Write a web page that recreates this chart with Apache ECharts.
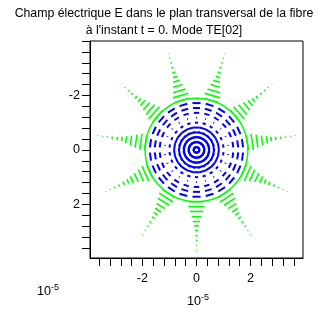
<!DOCTYPE html>
<html>
<head>
<meta charset="utf-8">
<script src="https://cdn.jsdelivr.net/npm/echarts@6/dist/echarts.min.js"></script>
<style>
html,body{margin:0;padding:0;background:#fff;}
#c{width:329px;height:329px;}
</style>
</head>
<body>
<div id="c"></div>
<script>
// ---- data (units of 1e-5) ----
const titleLines = ["Champ électrique E dans le plan transversal de la fibre", "à l'instant t = 0. Mode TE[02]"];
const xTicks = [-3.6,-3.2,-2.8,-2.4,-2.0,-1.6,-1.2,-0.8,-0.4,0,0.4,0.8,1.2,1.6,2.0,2.4,2.8,3.2,3.6];
const yTicks = [-4.0,-3.6,-3.2,-2.8,-2.4,-2.0,-1.6,-1.2,-0.8,-0.4,0,0.4,0.8,1.2,1.6,2.0,2.4,2.8,3.2,3.6];
const xTickLabels = [-2, 0, 2];
const yTickLabels = [-2, 0, 2];
// core (blue) arrows: sampling radii and arrow length at each radius
const coreRadii   = [0.10,0.28,0.46,0.64,0.82,1.00,1.18,1.36,1.54,1.72];
const coreLengths = [0.10,0.22,0.28,0.28,0.24,0.12,0.03,0.20,0.26,0.30];
// core sampling angles (degrees, data coordinates)
const coreAngles = [90,106.4,122.7,139.1,155.5,171.8,188.2,204.5,220.9,237.3,253.6,270,286.4,302.7,319.1,335.5,351.8,8.2,24.5,40.9,57.3,73.6];
// cladding (green) arrows: sampling radii, arrow lengths, spoke angles
const cladRadii   = [1.90,2.08,2.26,2.45,2.63,2.79,2.96,3.15,3.33,3.51,3.69];
const cladLengths = [0.55,0.60,0.48,0.36,0.26,0.17,0.12,0.08,0.05,0.03,0.02];
const cladAngles = [90,122.7,155.5,188.2,220.9,253.6,286.4,319.1,351.8,24.5,57.3];
const coreRadius = 1.9;

// build arrow segments (centre + tangential half vector)
function buildArrows(radii, lengths, angles) {
  const out = [];
  radii.forEach((r, i) => {
    const L = lengths[i];
    angles.forEach(a => {
      const t = a * Math.PI / 180;
      out.push([r * Math.cos(t), r * Math.sin(t), -Math.sin(t) * L / 2, Math.cos(t) * L / 2]);
    });
  });
  return out;
}
const coreArrows = buildArrows(coreRadii, coreLengths, coreAngles);
const cladArrows = buildArrows(cladRadii, cladLengths, cladAngles);

function segRender(color, w) {
  return function (params, api) {
    const x = api.value(0), y = api.value(1), hx = api.value(2), hy = api.value(3);
    const p1 = api.coord([x - hx, y - hy]);
    const p2 = api.coord([x + hx, y + hy]);
    return {
      type: 'line',
      shape: {x1: p1[0], y1: p1[1], x2: p2[0], y2: p2[1]},
      style: {stroke: color, lineWidth: w, lineCap: 'butt'}
    };
  };
}

const font = "'Liberation Sans', Arial, sans-serif";
const chart = echarts.init(document.getElementById('c'), null, {renderer: 'canvas'});
chart.setOption({
  animation: false,
  backgroundColor: '#fff',
  title: {
    text: titleLines.join('\n'),
    left: 164, top: 0, padding: [5, 0, 0, 0], textAlign: 'center',
    textStyle: {fontFamily: font, fontSize: 12.3, fontWeight: 'normal', color: '#000', lineHeight: 17, align: 'center'}
  },
  grid: {left: 90, top: 41, width: 213, height: 217, show: true, borderColor: '#000', borderWidth: 1, containLabel: false},
  xAxis: {
    type: 'value', min: -3.94, max: 3.94,
    axisLine: {show: true, onZero: false, lineStyle: {color: '#000', width: 1}},
    axisTick: {show: true, customValues: xTicks, length: 8, lineStyle: {color: '#000'}},
    axisLabel: {show: true, customValues: xTickLabels, margin: 14, color: '#000', fontFamily: font, fontSize: 12.6,
      formatter: v => String(v)},
    splitLine: {show: false}
  },
  yAxis: {
    type: 'value', min: -4.0, max: 3.97, inverse: true,
    axisLine: {show: true, onZero: false, lineStyle: {color: '#000', width: 1}},
    axisTick: {show: true, customValues: yTicks, length: 8, lineStyle: {color: '#000'}},
    axisLabel: {show: true, customValues: yTickLabels, margin: 10, color: '#000', fontFamily: font, fontSize: 12.6,
      formatter: v => String(v)},
    splitLine: {show: false}
  },
  graphic: [
    {type: 'text', left: 37, top: 283, style: {
      text: '{b|10}{s|-5}', fontFamily: font,
      rich: {b: {fontSize: 12.6, fontFamily: font, fill: '#000', verticalAlign: 'bottom'},
             s: {fontSize: 9, fontFamily: font, fill: '#000', verticalAlign: 'top', padding: [0,0,6,0]}}}},
    {type: 'text', left: 187, top: 293, style: {
      text: '{b|10}{s|-5}', fontFamily: font,
      rich: {b: {fontSize: 12.6, fontFamily: font, fill: '#000', verticalAlign: 'bottom'},
             s: {fontSize: 9, fontFamily: font, fill: '#000', verticalAlign: 'top', padding: [0,0,6,0]}}}}
  ],
  series: [
    {
      type: 'custom', coordinateSystem: 'cartesian2d', silent: true, clip: true,
      data: [[0, 0, coreRadius]],
      renderItem: function (params, api) {
        const c = api.coord([0, 0]);
        const rx = api.size([api.value(2), 0])[0];
        const ry = api.size([0, api.value(2)])[1];
        return {type: 'ellipse', shape: {cx: c[0], cy: c[1], rx: rx, ry: ry},
          style: {fill: null, stroke: '#00ff00', lineWidth: 1.5}};
      }
    },
    {type: 'custom', coordinateSystem: 'cartesian2d', silent: true, data: coreArrows, renderItem: segRender('#0000ff', 2)},
    {type: 'custom', coordinateSystem: 'cartesian2d', silent: true, data: cladArrows, renderItem: segRender('#00ff00', 1.6)}
  ]
});
</script>
</body>
</html>
